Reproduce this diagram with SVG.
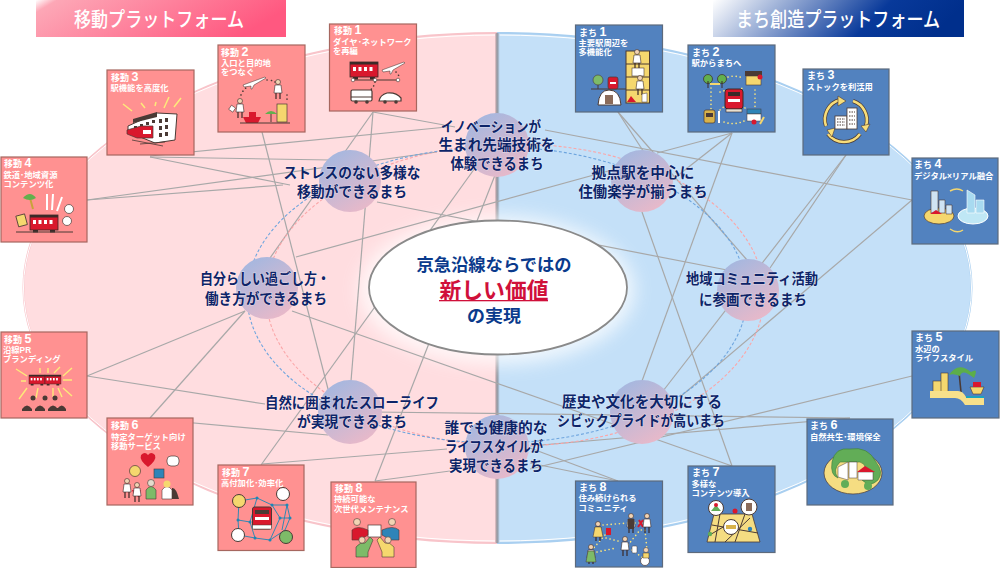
<svg xmlns="http://www.w3.org/2000/svg" width="1000" height="568" viewBox="0 0 1000 568">
<style>
text{font-family:"Liberation Sans","Noto Sans CJK JP",sans-serif;font-weight:700}
.pb{fill:#ff9191;stroke:#a6675f;stroke-width:1.2}
.bb{fill:#5282bf;stroke:#5d6a7c;stroke-width:1.2}
.t{fill:#fff;font-size:8.3px}
.h{font-size:9px}
.n{font-size:12.5px}
.hub{fill:url(#hg)}
.lab{fill:#0d2468;font-size:14.4px;text-anchor:middle;stroke:#fff;stroke-opacity:.4;stroke-width:1.2px;paint-order:stroke}
.con line{stroke:#a8a8a8;stroke-width:1.2}
.dk{stroke:#4a3a35;stroke-width:1;fill:none}
.dot{fill:none;stroke-width:1.6;stroke-linecap:round;stroke-dasharray:.1 4}
.ttl{fill:#fff;font-size:20px;text-anchor:middle;font-weight:500}
</style>
<defs>
<linearGradient id="tl" x1="0" y1="0" x2="1" y2=".25"><stop offset="0" stop-color="#fff"/><stop offset=".08" stop-color="#fda7b6"/><stop offset="1" stop-color="#ff5880"/></linearGradient>
<linearGradient id="tr" x1="0" y1="0" x2="1" y2=".15"><stop offset="0" stop-color="#fff"/><stop offset=".7" stop-color="#08399a"/><stop offset="1" stop-color="#002f8c"/></linearGradient>
<linearGradient id="hg" x1=".2" y1="0" x2=".8" y2="1"><stop offset="0" stop-color="#a2b7e0"/><stop offset="1" stop-color="#ecb9c8"/></linearGradient>
<linearGradient id="div" x1="0" x2="1" y1="0" y2="0"><stop offset="0" stop-color="#eec6ca"/><stop offset=".45" stop-color="#8f9299"/><stop offset="1" stop-color="#b4cfe8"/></linearGradient>
<clipPath id="lc"><rect x="0" y="0" width="497" height="568"/></clipPath>
<clipPath id="rc"><rect x="497" y="0" width="503" height="568"/></clipPath>
<filter id="bl" x="-30%" y="-50%" width="160%" height="200%"><feGaussianBlur stdDeviation="9"/></filter>
<filter id="sh" x="-5%" y="-10%" width="110%" height="120%"><feGaussianBlur stdDeviation=".6"/></filter>
<g id="train"><rect x="0" y="0" width="28" height="15" fill="#d9182d" stroke="#3b2a28" stroke-width=".8"/><rect x="0" y="0" width="28" height="2.5" fill="#3b2a28"/><rect x="3" y="5" width="3" height="4" fill="#fff"/><rect x="8.500" y="5" width="3" height="4" fill="#fff"/><rect x="14" y="5" width="3" height="4" fill="#fff"/><rect x="19.500" y="5" width="3" height="4" fill="#fff"/><rect x="3" y="15" width="5" height="2.500" fill="#3b2a28"/><rect x="20" y="15" width="5" height="2.500" fill="#3b2a28"/></g>
<g id="front"><rect x="0" y="0" width="18" height="20" rx="3" fill="#d9182d" stroke="#3b2a28"/><rect x="3" y="3" width="12" height="4" fill="#3b2a28"/><rect x="3" y="10" width="12" height="3" fill="#fff"/><rect x="1" y="20" width="16" height="3" fill="#e8e0d0" stroke="#3b2a28" stroke-width=".6"/></g>
<g id="tree"><circle cx="0" cy="-5" r="4.500" fill="#62b04d" stroke="#3b2a28" stroke-width=".7"/><path d="M0-3V4" stroke="#3b2a28"/></g>
<g id="person"><circle cx="0" cy="-6" r="2.500" fill="#f2d4b4" stroke="#3b2a28" stroke-width=".6"/><path d="M-3-3H3L4 5H-4Z" fill="#fff" stroke="#3b2a28" stroke-width=".6"/><path d="M-2 5V11M2 5V11" stroke="#3b2a28" stroke-width="1.2"/></g>
<path id="plane" d="M0 8 22 0 23 1 11 8 9 12 8 12 8 9 1 10Z" fill="#fff" stroke="#3b2a28" stroke-width=".5"/>
</defs>

<g id="background">
<g clip-path="url(#lc)"><ellipse cx="497.500" cy="288" rx="474" ry="255" fill="#ffdde0" stroke="#f8c4ca" stroke-width="2"/><ellipse cx="497.500" cy="288" rx="474" ry="253" fill="none" stroke="#fff" stroke-width="1"/></g>
<g clip-path="url(#rc)"><ellipse cx="497.500" cy="288" rx="474" ry="255" fill="#c4e0f8" stroke="#a9cff0" stroke-width="2"/><ellipse cx="497.500" cy="288" rx="474" ry="253" fill="none" stroke="#fff" stroke-width="1"/></g>
<rect x="495" y="33" width="4.500" height="510" fill="url(#div)"/>
<ellipse cx="497" cy="290" rx="138" ry="75" fill="#fff" opacity=".75" filter="url(#bl)"/>
</g>

<g id="connectors" class="con">
<line x1="373" y1="112" x2="455" y2="127"/><line x1="373" y1="112" x2="351" y2="381"/><line x1="373" y1="112" x2="270" y2="258"/>
<line x1="262" y1="132" x2="328" y2="389"/>
<line x1="150" y1="157" x2="290" y2="185"/><line x1="150" y1="157" x2="330" y2="160"/><line x1="150" y1="156" x2="447" y2="127"/>
<line x1="87" y1="200" x2="283" y2="185"/><line x1="87" y1="200" x2="437" y2="152"/>
<line x1="87" y1="376" x2="245" y2="311"/><line x1="87" y1="376" x2="265" y2="404"/>
<line x1="150" y1="418" x2="245" y2="311"/><line x1="150" y1="419" x2="328" y2="435"/>
<line x1="261" y1="465" x2="475" y2="168"/><line x1="262" y1="464" x2="447" y2="449"/>
<line x1="375" y1="481" x2="450" y2="471"/><line x1="375" y1="481" x2="497" y2="170"/>
<line x1="377" y1="202" x2="727" y2="270"/>
<line x1="296" y1="257" x2="612" y2="170"/>
<line x1="292" y1="311" x2="732" y2="466"/>
<line x1="732" y1="466" x2="642" y2="212"/>
<line x1="618" y1="481" x2="530" y2="448"/><line x1="618" y1="481" x2="530" y2="463"/>
<line x1="373" y1="412" x2="850" y2="418"/>
<line x1="850" y1="418" x2="530" y2="446"/>
<line x1="912" y1="376" x2="530" y2="469"/>
<line x1="618" y1="112" x2="647" y2="157"/><line x1="618" y1="112" x2="747" y2="260"/>
<line x1="732" y1="133" x2="657" y2="153"/><line x1="732" y1="133" x2="672" y2="180"/><line x1="732" y1="133" x2="642" y2="381"/>
<line x1="846" y1="155" x2="770" y2="268"/><line x1="846" y1="155" x2="663" y2="391"/>
<line x1="912" y1="200" x2="545" y2="130"/><line x1="912" y1="200" x2="680" y2="397"/>
<ellipse cx="515" cy="295" rx="249" ry="151" fill="none" stroke="#fba6a8" stroke-width="1.100" stroke-dasharray="3 2"/>
<ellipse cx="497" cy="295" rx="250" ry="148" fill="none" stroke="#6ea5de" stroke-width="1.100" stroke-dasharray="3 2"/>
</g>

<g id="centre">
<ellipse cx="498" cy="287.500" rx="129" ry="67" fill="#fff" stroke="#8a8a8a" stroke-width="1.800" filter="url(#sh)"/>
<text text-anchor="middle" fill="#0a3a8c" font-size="17"><tspan x="494" y="271" textLength="155" lengthAdjust="spacingAndGlyphs">京急沿線ならではの</tspan><tspan x="494" y="298" font-size="22" fill="#d0103a" textLength="109" lengthAdjust="spacingAndGlyphs">新しい価値</tspan><tspan x="494" y="322" textLength="54" lengthAdjust="spacingAndGlyphs">の実現</tspan></text>
<rect x="439" y="300" width="109" height="1.300" fill="#d0103a"/>
</g>

<g id="hub-innovation"><circle class="hub" cx="497" cy="145" r="32"/>
<text class="lab"><tspan x="491" y="132" textLength="100" lengthAdjust="spacingAndGlyphs">イノベーションが</tspan><tspan x="497" y="150" textLength="117" lengthAdjust="spacingAndGlyphs">生まれ先端技術を</tspan><tspan x="497" y="169" textLength="93" lengthAdjust="spacingAndGlyphs">体験できるまち</tspan></text></g>
<g id="hub-stress"><circle class="hub" cx="350" cy="181" r="31"/>
<text class="lab"><tspan x="352" y="178" textLength="137" lengthAdjust="spacingAndGlyphs">ストレスのない多様な</tspan><tspan x="352" y="197" textLength="110" lengthAdjust="spacingAndGlyphs">移動ができるまち</tspan></text></g>
<g id="hub-kyoten"><circle class="hub" cx="642" cy="181" r="31"/>
<text class="lab"><tspan x="643" y="178" textLength="103" lengthAdjust="spacingAndGlyphs">拠点駅を中心に</tspan><tspan x="643" y="197" textLength="129" lengthAdjust="spacingAndGlyphs">住働楽学が揃うまち</tspan></text></g>
<g id="hub-jibun"><circle class="hub" cx="267" cy="288" r="31"/>
<text class="lab"><tspan x="265" y="284" textLength="130" lengthAdjust="spacingAndGlyphs">自分らしい過ごし方・</tspan><tspan x="266" y="304" textLength="122" lengthAdjust="spacingAndGlyphs">働き方ができるまち</tspan></text></g>
<g id="hub-chiiki"><circle class="hub" cx="748" cy="290" r="31"/>
<text class="lab"><tspan x="752" y="284" textLength="132" lengthAdjust="spacingAndGlyphs">地域コミュニティ活動</tspan><tspan x="753" y="305" textLength="108" lengthAdjust="spacingAndGlyphs">に参画できるまち</tspan></text></g>
<g id="hub-shizen"><circle class="hub" cx="350" cy="412" r="32"/>
<text class="lab"><tspan x="352" y="408" textLength="174" lengthAdjust="spacingAndGlyphs">自然に囲まれたスローライフ</tspan><tspan x="352" y="427" textLength="110" lengthAdjust="spacingAndGlyphs">が実現できるまち</tspan></text></g>
<g id="hub-rekishi"><circle class="hub" cx="642" cy="412" r="32"/>
<text class="lab"><tspan x="642" y="407" textLength="160" lengthAdjust="spacingAndGlyphs">歴史や文化を大切にする</tspan><tspan x="641" y="426" textLength="168" lengthAdjust="spacingAndGlyphs">シビックプライドが高いまち</tspan></text></g>
<g id="hub-dare"><circle class="hub" cx="497" cy="447" r="32"/>
<text class="lab"><tspan x="496" y="433" textLength="103" lengthAdjust="spacingAndGlyphs">誰でも健康的な</tspan><tspan x="494" y="452" textLength="98" lengthAdjust="spacingAndGlyphs">ライフスタイルが</tspan><tspan x="496" y="471" textLength="94" lengthAdjust="spacingAndGlyphs">実現できるまち</tspan></text></g>

<g id="title-ido"><rect x="36" y="0" width="250" height="37" fill="url(#tl)"/><text class="ttl" x="159" y="27" textLength="170" lengthAdjust="spacingAndGlyphs">移動プラットフォーム</text></g>
<g id="title-machi"><rect x="713" y="0" width="251" height="37" fill="url(#tr)"/><text class="ttl" x="838" y="27" textLength="204" lengthAdjust="spacingAndGlyphs">まち創造プラットフォーム</text></g>

<g id="ido-1"><rect class="pb" x="329.500" y="24" width="87" height="87"/>
<text class="t"><tspan class="h" x="334" y="34">移動 <tspan class="n">1</tspan></tspan><tspan x="333" y="44.500">ダイヤ･ネットワーク</tspan><tspan x="333" y="54">を再編</tspan></text>
<use href="#train" x="350" y="62"/><path class="dk" d="M353 80H398" stroke="#fff"/><circle cx="353" cy="80" r="1.800" fill="#fff" stroke="#4a3a35" stroke-width=".6"/><circle cx="375" cy="80" r="1.800" fill="#fff" stroke="#4a3a35" stroke-width=".6"/><circle cx="398" cy="80" r="1.800" fill="#fff" stroke="#4a3a35" stroke-width=".6"/>
<use href="#plane" x="382" y="62"/><path class="dot" stroke="#4a3a35" d="M396 72Q400 75 398 79M375 82Q374 88 368 92"/>
<rect x="351" y="90" width="21" height="11" rx="1.500" fill="#fff" stroke="#4a3a35" stroke-width="1.200"/><path d="M351 97H372" stroke="#4a3a35"/><circle cx="356" cy="102" r="1.800" fill="#4a3a35"/><circle cx="367" cy="102" r="1.800" fill="#4a3a35"/>
<path d="M379 101Q380 95 387 93Q396 92 401 98V101Z" fill="#fff" stroke="#4a3a35" stroke-width="1.200"/><circle cx="385" cy="102" r="1.800" fill="#4a3a35"/><circle cx="396" cy="102" r="1.800" fill="#4a3a35"/></g>

<g id="ido-2"><rect class="pb" x="218" y="45" width="87" height="87"/>
<text class="t"><tspan class="h" x="221" y="56">移動 <tspan class="n">2</tspan></tspan><tspan x="221" y="65.500">入口と目的地</tspan><tspan x="221" y="75">をつなぐ</tspan></text>
<use href="#plane" x="243" y="77"/><path class="dot" stroke="#4a3a35" d="M267 80Q272 80 275 82M241 95Q243 90 246 88M287 95V103"/>
<use href="#person" x="278" y="88"/><use href="#person" x="240" y="107"/><rect x="230" y="106" width="5" height="5" fill="#fff" stroke="#4a3a35" stroke-width=".6" transform="rotate(35 232 108)"/>
<path d="M243 117H261L258 123H246Z" fill="#d9182d"/><rect x="249" y="112" width="7" height="5" fill="#d9182d"/><path d="M240 123H290" stroke="#4a3a35"/>
<path d="M271 122V113" stroke="#4a3a35"/><path d="M265 114Q271 108 277 114" fill="#62b04d"/><rect x="277" y="104" width="10" height="18" fill="#f5d76e" stroke="#4a3a35" stroke-width=".7"/></g>

<g id="ido-3"><rect class="pb" x="107" y="70" width="87" height="85"/>
<text class="t"><tspan class="h" x="111" y="80.500">移動 <tspan class="n">3</tspan></tspan><tspan x="110.500" y="90.500">駅機能を高度化</tspan></text>
<path d="M123 104 132 111M141 103 145 108M156 102 155 106M169 97 164 108M181 98 174 107" stroke="#fdea7a" stroke-width="1.500"/>
<path d="M128 126 157 113 177 114 175 140 155 143 128 132Z" fill="#fff" stroke="#4a3a35"/><path d="M133 119 157 112V117L133 123Z" fill="#4a3a35"/>
<path d="M134 126h3v3h-3zM140 124h3v3h-3zM146 122h3v3h-3zM152 120h3v3h-3zM159 119h3v4h-3zM165 118h3v4h-3zM159 126h3v4h-3zM165 125h3v4h-3zM159 133h3v4h-3zM165 132h3v4h-3z" fill="#4a3a35"/>
<path d="M127 130 141 126H153V138H137L127 134Z" fill="#d9182d" stroke="#4a3a35" stroke-width=".7"/><rect x="143" y="130" width="8" height="4" fill="#fff"/><path d="M132 140 163 146M140 144 165 142" stroke="#4a3a35" stroke-width=".8"/></g>

<g id="ido-4"><rect class="pb" x="1" y="157" width="86" height="85"/>
<text class="t"><tspan class="h" x="4" y="167">移動 <tspan class="n">4</tspan></tspan><tspan x="3.500" y="177.500">鉄道･地域資源</tspan><tspan x="3.500" y="187">コンテンツ化</tspan></text>
<path d="M30 198 33 209" stroke="#c9a33b" stroke-width="2"/><path d="M23 198Q30 190 36 198Q30 202 23 198Z" fill="#62b04d"/>
<path d="M47 194V210M53 194 52 210M62 197 57 211" stroke="#fff" stroke-width="2"/><circle cx="69" cy="209" r="4.500" fill="#fff" stroke="#4a3a35" stroke-width=".7"/><circle cx="67" cy="221" r="4.500" fill="#fff" stroke="#4a3a35" stroke-width=".7"/>
<rect x="17" y="215" width="9" height="11" fill="#f5d76e" stroke="#4a3a35" stroke-width=".8" transform="rotate(-15 21 220)"/><use href="#train" x="30" y="215"/><path d="M16 232H73" stroke="#4a3a35"/></g>

<g id="ido-5"><rect class="pb" x="1" y="332" width="86" height="86"/>
<text class="t"><tspan class="h" x="4" y="342.500">移動 <tspan class="n">5</tspan></tspan><tspan x="3" y="352.500">沿線PR</tspan><tspan x="3" y="362">ブランディング</tspan></text>
<use href="#train" transform="translate(29 375) scale(.57 .6)"/><use href="#train" transform="translate(45 375) scale(.57 .6)"/>
<path d="M16 369 27 376M40 368V373M48 368V373M60 367 54 373M72 368 63 376M21 381H26M63 380H72M19 399 27 388M38 388 36 398M53 388V397M58 388 62 397M72 396 63 388" stroke="#fdea7a" stroke-width="1.400"/>
<path d="M22 411V409Q27 402 32 409V411ZM35 411V409Q40 402 45 409V411ZM48 411V409Q53 402 58 409V411ZM57 411V409Q62 402 66 409V411Z" fill="#4a3a35"/><circle cx="33" cy="398" r="2.500" fill="#4a3a35"/><circle cx="45" cy="398" r="2.500" fill="#4a3a35"/><circle cx="55" cy="398" r="2.500" fill="#4a3a35"/></g>

<g id="ido-6"><rect class="pb" x="107" y="418" width="86" height="87"/>
<text class="t"><tspan class="h" x="111" y="429">移動 <tspan class="n">6</tspan></tspan><tspan x="111" y="439.500">特定ターゲット向け</tspan><tspan x="111" y="449">移動サービス</tspan></text>
<path d="M148 467Q139 460 141 455Q145 451 148 455Q151 451 155 455Q157 460 148 467Z" fill="#d9182d"/><rect x="167" y="456" width="12" height="10" rx="4" fill="#fff" stroke="#4a3a35" stroke-width=".7"/>
<circle cx="135" cy="471" r="5.500" fill="#f5d76e" stroke="#4a3a35" stroke-width=".7"/><rect x="154" y="469" width="10" height="9" fill="#2e84b8" stroke="#4a3a35" stroke-width=".6"/>
<use href="#person" x="127" y="487"/><path d="M132 490 141 490 139 497 134 495Z" fill="#d9182d"/><use href="#person" x="137" y="491"/><path d="M146 499V490Q151 483 156 490V499Z" fill="#7dbb68" stroke="#4a3a35" stroke-width=".6"/><circle cx="151" cy="483" r="3.500" fill="#e5dccd" stroke="#4a3a35" stroke-width=".6"/><path d="M162 499V490Q167 483 172 490V499Z" fill="#fff" stroke="#4a3a35" stroke-width=".6"/><circle cx="167" cy="484" r="3.500" fill="#f5d76e"/><path d="M172 499V488Q176 487 179 499Z" fill="#4a3a35"/></g>

<g id="ido-7"><rect class="pb" x="218" y="465" width="86" height="85.500"/>
<text class="t"><tspan class="h" x="222" y="475.500">移動 <tspan class="n">7</tspan></tspan><tspan x="221" y="485.500">高付加化･効率化</tspan></text>
<path d="M239 501 257 498 272 505 287 505 290 518 285 530 270 540 255 538 239 535 238 520ZM238 520 250 522 257 498M272 505 280 518 290 518M280 518 270 540M250 522 255 538M287 505 282 530" fill="none" stroke="#1e87b5" stroke-width=".9"/>
<path d="M257 498h.01M272 505h.01M287 505h.01M290 518h.01M280 518h.01M270 540h.01M255 538h.01M238 520h.01M250 522h.01" stroke="#1e87b5" stroke-width="3" stroke-linecap="round"/>
<rect x="252.500" y="507" width="19" height="22" rx="2" fill="#d9182d" stroke="#4a3a35"/><rect x="255" y="510" width="14" height="4" fill="#4a3a35"/><rect x="255" y="517" width="14" height="3" fill="#fff"/><rect x="252.500" y="525" width="19" height="4" fill="#fff" stroke="#4a3a35" stroke-width=".5"/>
<circle cx="239" cy="501" r="6.500" fill="#f5d76e" stroke="#4a3a35"/><circle cx="283" cy="494" r="6.500" fill="#fff" stroke="#4a3a35"/><circle cx="238" cy="535" r="6.500" fill="#fff" stroke="#4a3a35"/><circle cx="286" cy="537" r="6.500" fill="#7dbb68" stroke="#4a3a35"/></g>

<g id="ido-8"><rect class="pb" x="331" y="482" width="85" height="85.500"/>
<text class="t"><tspan class="h" x="335" y="491.500">移動 <tspan class="n">8</tspan></tspan><tspan x="334" y="502">持続可能な</tspan><tspan x="334" y="511.500">次世代メンテナンス</tspan></text>
<rect x="368" y="525" width="13" height="12" fill="#fff" stroke="#4a3a35" stroke-width=".7"/>
<path d="M352 540V530Q357 525 368 530V535L360 540Z" fill="#d9182d" stroke="#4a3a35" stroke-width=".6"/><path d="M399 540V530Q393 525 382 530V535L391 540Z" fill="#2e84b8" stroke="#4a3a35" stroke-width=".6"/>
<circle cx="357" cy="522" r="3.500" fill="#f2d4b4" stroke="#4a3a35" stroke-width=".6"/><circle cx="392" cy="522" r="3.500" fill="#f2d4b4" stroke="#4a3a35" stroke-width=".6"/>
<path d="M356 557V547Q360 542 365 543L370 537 373 540 368 552V557Z" fill="#7dbb68" stroke="#4a3a35" stroke-width=".6"/><path d="M394 557V547Q390 542 385 543L380 537 377 540 382 552V557Z" fill="#f5d76e" stroke="#4a3a35" stroke-width=".6"/>
<circle cx="362" cy="540" r="3.200" fill="#f2d4b4" stroke="#4a3a35" stroke-width=".6"/><circle cx="388" cy="540" r="3.200" fill="#f2d4b4" stroke="#4a3a35" stroke-width=".6"/></g>

<g id="machi-1"><rect class="bb" x="575.500" y="25" width="87" height="87"/>
<text class="t"><tspan class="h" x="579" y="35.500">まち <tspan class="n">1</tspan></tspan><tspan x="578.500" y="45.500">主要駅周辺を</tspan><tspan x="578.500" y="55">多機能化</tspan></text>
<rect x="626" y="51" width="23.500" height="52" fill="#f5d76e" stroke="#4a3a35"/><path d="M626 64H649.500M626 77H649.500M626 90H649.500" stroke="#4a3a35"/>
<use href="#person" x="637" y="58"/><rect x="632" y="68" width="12" height="8" fill="#fff" stroke="#4a3a35" stroke-width=".6"/><use href="#person" x="640" y="84"/><path d="M642 102V94L647 93V102Z" fill="#fff" stroke="#4a3a35" stroke-width=".5"/><path d="M627 102 631 96 636 102Z" fill="#d9182d"/>
<path d="M591 89H626" stroke="#4a3a35"/><path d="M598 89V84" stroke="#4a3a35"/><circle cx="598" cy="80" r="5" fill="#7dbb68" stroke="#4a3a35" stroke-width=".6"/><rect x="608" y="77" width="10" height="12" rx="2" fill="#d9182d" stroke="#4a3a35" stroke-width=".7"/><rect x="610" y="82" width="6" height="2" fill="#fff"/>
<path d="M598 105Q599 90 609 90Q620 90 621 105Z" fill="#fff" stroke="#4a3a35"/><rect x="605" y="95" width="8" height="9" fill="#8a6b5a"/></g>

<g id="machi-2"><rect class="bb" x="688" y="45" width="87" height="87"/>
<text class="t"><tspan class="h" x="692" y="55.500">まち <tspan class="n">2</tspan></tspan><tspan x="691.500" y="65.500">駅からまちへ</tspan></text>
<path class="dot" stroke="#fde67a" d="M728 77Q735 75 743 78M711 88V110M755 90V108M724 122Q735 126 746 120M720 92 727 90M745 108 740 104M720 110 727 104M738 90 745 87"/>
<use href="#tree" x="708" y="84"/><use href="#tree" x="722" y="84"/><path d="M710 84H720" stroke="#f5d76e" stroke-width="2"/>
<rect x="745" y="71" width="17" height="5" fill="#4a3a35"/><rect x="746" y="76" width="15" height="9" fill="#f5d76e" stroke="#4a3a35" stroke-width=".6"/><circle cx="760" cy="77" r="2.500" fill="#d9182d"/>
<use href="#front" x="725" y="89"/>
<rect x="704" y="110" width="11" height="13" rx="2" fill="#d8b24a" stroke="#4a3a35" stroke-width=".7"/><rect x="706" y="113" width="7" height="4" fill="#4a3a35"/><rect x="718" y="111" width="2" height="12" fill="#fff"/>
<rect x="747" y="109" width="14" height="5" fill="#2e84b8" stroke="#4a3a35" stroke-width=".5"/><rect x="747" y="114" width="14" height="7" fill="#fff" stroke="#4a3a35" stroke-width=".5"/><circle cx="754" cy="122" r="2.500" fill="#d9182d"/><path d="M760 124 764 117" stroke="#f5d76e" stroke-width="2"/></g>

<g id="machi-3"><rect class="bb" x="803" y="69" width="86" height="86"/>
<text class="t"><tspan class="h" x="807" y="79">まち <tspan class="n">3</tspan></tspan><tspan x="806.500" y="89.500">ストックを利活用</tspan></text>
<path d="M826 126A20 20 0 0 1 840 100M853 101A20 20 0 0 1 866 126M860 134A20 20 0 0 1 828 134" fill="none" stroke="#4a3a35" stroke-width="4"/>
<path d="M826 126A20 20 0 0 1 840 100M853 101A20 20 0 0 1 866 126M860 134A20 20 0 0 1 828 134" fill="none" stroke="#f7dd7a" stroke-width="2.600"/>
<path d="M838 96 846 101 838 106ZM861 126 870 124 866 132ZM827 130 835 128 832 137Z" fill="#f7dd7a" stroke="#4a3a35" stroke-width=".6"/>
<rect x="835" y="116" width="12" height="13" fill="#fff" stroke="#4a3a35" stroke-width=".8"/><rect x="847" y="108" width="10" height="21" fill="#fff" stroke="#4a3a35" stroke-width=".8"/><path d="M837 119H845M837 122H845M837 125H845" stroke="#4a3a35" stroke-dasharray="1.500 1"/><path d="M849 112H855M849 116H855M849 120H855M849 124H855" stroke="#4a3a35" stroke-dasharray="1.500 1"/></g>

<g id="machi-4"><rect class="bb" x="912" y="158" width="86" height="86"/>
<text class="t"><tspan class="h" x="914" y="168">まち <tspan class="n">4</tspan></tspan><tspan x="914" y="178.500">デジタル×リアル融合</tspan></text>
<ellipse cx="939" cy="216" rx="15" ry="8" fill="#f5d76e" stroke="#4a3a35" stroke-width=".7"/><path d="M931 191H938V213H931ZM939 200H945V213H939ZM946 205H952V214H946Z" fill="#cfe3f3" stroke="#4a3a35" stroke-width=".6"/><path d="M930 214 936 210 942 214Z" fill="#d9182d"/>
<ellipse cx="973" cy="216" rx="15" ry="8" fill="#bfe7f5" stroke="#fff"/><path d="M967 190 975 195V213H967ZM976 200H984V213H976Z" fill="#a8daf0" stroke="#fff" stroke-width=".6"/>
<path d="M950 191Q957 187 963 191M950 229Q957 234 963 230" fill="none" stroke="#f5d76e" stroke-width="1.500"/></g>

<g id="machi-5"><rect class="bb" x="912" y="331" width="87" height="87"/>
<text class="t"><tspan class="h" x="915" y="341">まち <tspan class="n">5</tspan></tspan><tspan x="915" y="351.500">水辺の</tspan><tspan x="915" y="361">ライフスタイル</tspan></text>
<rect x="933" y="381" width="9" height="11" fill="#f5d76e" stroke="#4a3a35" stroke-width=".6"/><rect x="941" y="373" width="7" height="19" fill="#f5d76e" stroke="#4a3a35" stroke-width=".6"/>
<path d="M961 392 959 372" stroke="#4a3a35" stroke-width="1.600"/><path d="M949 375Q958 361 971 372Q979 367 974 378Q962 368 960 376Q953 373 949 375Z" fill="#5cae4a"/>
<path d="M930 391H958Q963 391 966 397Q968 398 984 398V405H965Q961 398 955 398H930Z" fill="#f7e08b"/><path d="M966 397H984" stroke="#1ca2bf" stroke-width="2"/>
<path d="M970 387H984L981 394H973Z" fill="#f5d76e" stroke="#4a3a35" stroke-width=".6"/><rect x="973" y="382" width="8" height="5" fill="#d9182d"/></g>

<g id="machi-6"><rect class="bb" x="807" y="419" width="86" height="86"/>
<text class="t"><tspan class="h" x="810" y="429">まち <tspan class="n">6</tspan></tspan><tspan x="810" y="439.500">自然共生･環境保全</tspan></text>
<ellipse cx="853" cy="473" rx="29" ry="21" fill="#f5dd82" stroke="#4a3a35" stroke-width=".7"/>
<path d="M832 462Q835 447 850 449Q868 446 876 462Q884 472 878 480Q870 488 862 480Q870 465 860 462H840Q832 470 838 478Q830 475 832 462Z" fill="#62ad57" stroke="#3c7a3a" stroke-width=".6"/>
<circle cx="845" cy="484" r="4" fill="#62ad57"/><circle cx="868" cy="486" r="4" fill="#62ad57"/>
<path d="M838 467 848 462V480L838 477ZM849 462H857V478H849Z" fill="#fff" stroke="#4a3a35" stroke-width=".5"/><path d="M858 472H873V480H858Z" fill="#fff" stroke="#4a3a35" stroke-width=".5"/><path d="M857 472 865 466 875 472Z" fill="#d9182d"/></g>

<g id="machi-7"><rect class="bb" x="688" y="466" width="87" height="86.500"/>
<text class="t"><tspan class="h" x="692" y="476">まち <tspan class="n">7</tspan></tspan><tspan x="691.500" y="486.500">多様な</tspan><tspan x="691.500" y="496">コンテンツ導入</tspan></text>
<path d="M714 514H752L760 542H707Z" fill="#f5dd82" stroke="#4a3a35" stroke-width=".8"/><path d="M712 525 758 533M720 514 715 542M745 514 735 542M708 536 735 520M725 542 750 518" stroke="#4a3a35" stroke-width="1" fill="none"/>
<circle cx="716" cy="508" r="7.500" fill="#fff" stroke="#4a3a35"/><path d="M711 511 716 505 721 511Z" fill="#62ad57"/><circle cx="716" cy="505" r="2" fill="#d9182d"/>
<circle cx="749" cy="507" r="8" fill="#fff" stroke="#4a3a35"/><rect x="746" y="503" width="6" height="8" fill="#8a6b5a"/><circle cx="735" cy="511" r="2.500" fill="#d9182d"/>
<circle cx="731" cy="527" r="7.500" fill="#fff" stroke="#4a3a35"/><path d="M726 529H736V525H726Z" fill="#d8b24a"/><circle cx="750" cy="529" r="2.200" fill="#2e84b8"/><circle cx="710" cy="534" r="2.200" fill="#62ad57"/></g>

<g id="machi-8"><rect class="bb" x="575.500" y="481" width="87" height="86"/>
<text class="t"><tspan class="h" x="579" y="490.500">まち <tspan class="n">8</tspan></tspan><tspan x="578.500" y="501">住み続けられる</tspan><tspan x="578.500" y="510.500">コミュニティ</tspan></text>
<path class="dot" stroke="#fde67a" d="M603 525 628 523M635 523H645M605 535 592 550M606 538 618 541M628 545 640 530 645 530 647 550M597 552 616 548M632 550 643 558"/>
<use href="#person" x="598" y="530"/><path d="M595 527H601L603 537H593Z" fill="#f5d76e" stroke="#4a3a35" stroke-width=".5"/><rect x="606" y="528" width="5" height="7" fill="#d9182d"/><use href="#person" x="631" y="522"/><path d="M628 519H634V529H628Z" fill="#4a3a35"/><path d="M639 520 643 527M643 520 638 527" stroke="#d9182d" stroke-width="2"/><use href="#person" x="647" y="522"/>
<use href="#person" x="625" y="545"/><rect x="632" y="546" width="5" height="7" rx="1" fill="#fff" stroke="#4a3a35" stroke-width=".5"/><use href="#person" x="591" y="553"/><path d="M588 551H594L596 562H586Z" fill="#7dbb68" stroke="#4a3a35" stroke-width=".5"/>
<circle cx="645" cy="561" r="4.500" fill="#fff" stroke="#4a3a35" stroke-width=".7"/><circle cx="646" cy="550" r="2.500" fill="#f2d4b4" stroke="#4a3a35" stroke-width=".5"/><path d="M643 553H649V558H643Z" fill="#f5d76e" stroke="#4a3a35" stroke-width=".5"/></g>
</svg>
